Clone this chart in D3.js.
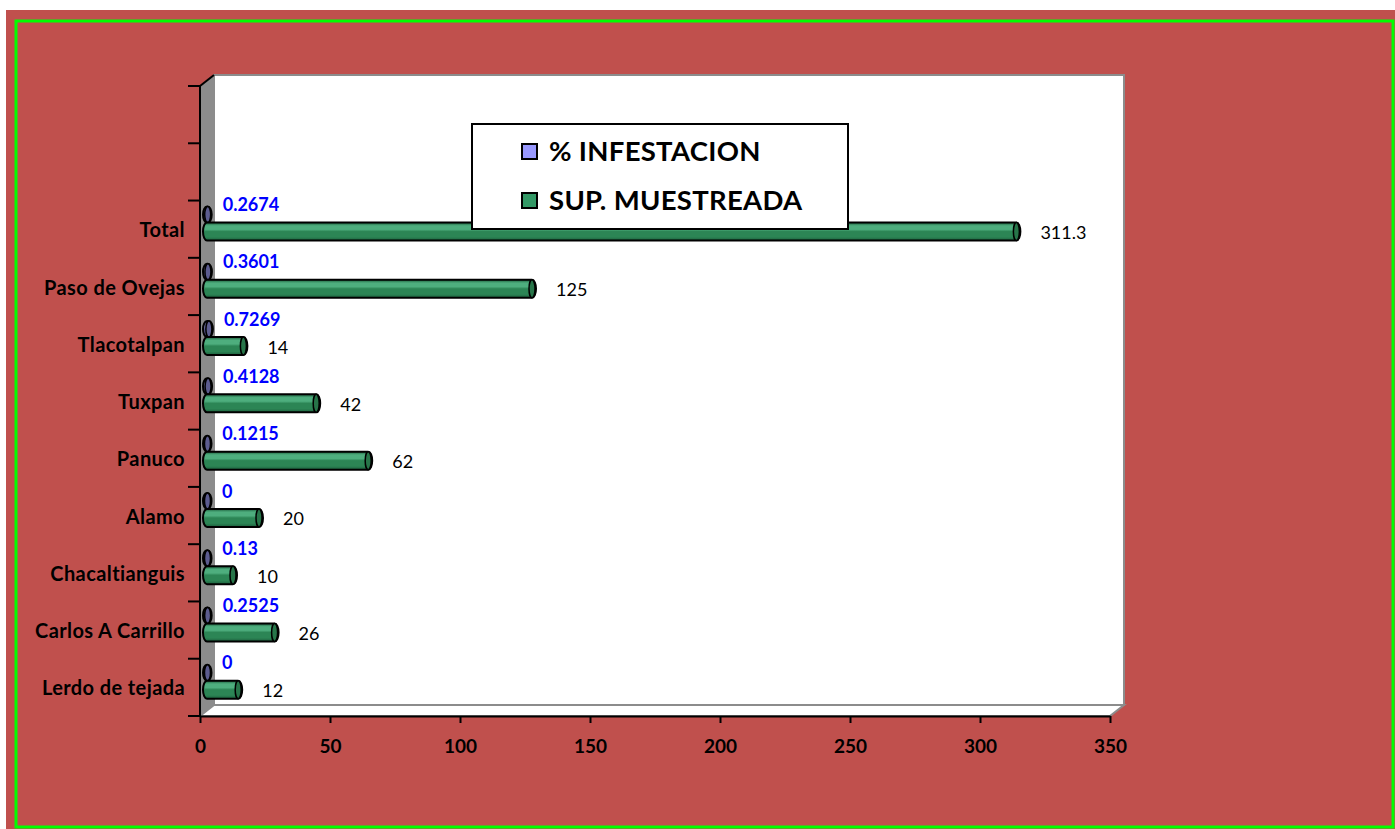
<!DOCTYPE html>
<html>
<head>
<meta charset="utf-8">
<script src="https://cdn.jsdelivr.net/npm/d3@7"></script>
<style>
  body { margin: 0; background: #fff; }
  svg { display: block; }
  text { font-family: Lato, "Open Sans", sans-serif; }
</style>
</head>
<body>
<svg id="chart" width="1395" height="829"></svg>
<script>
// categories, bottom to top as in the chart
const categories = ['Lerdo de tejada', 'Carlos A Carrillo', 'Chacaltianguis', 'Alamo',
  'Panuco', 'Tuxpan', 'Tlacotalpan', 'Paso de Ovejas', 'Total'];
const infestacion = [0, 0.2525, 0.13, 0, 0.1215, 0.4128, 0.7269, 0.3601, 0.2674];
const muestreada = [12, 26, 10, 20, 62, 42, 14, 125, 311.3];
const xTicks = [0, 50, 100, 150, 200, 250, 300, 350];
const seriesNames = ['% INFESTACION', 'SUP. MUESTREADA'];
const seriesColors = ['#9999ff', '#339966'];

const svg = d3.select('#chart');
const defs = svg.append('defs');

// background + green frame
svg.append('rect').attr('x', 6).attr('y', 10).attr('width', 1389).attr('height', 819).attr('fill', '#c0504d');
svg.append('rect').attr('x', 16).attr('y', 21).attr('width', 1377).attr('height', 806)
  .attr('fill', 'none').attr('stroke', '#00ff00').attr('stroke-width', 3);

// plot geometry
const pLeft = 200, pRight = 1110, pTop = 86, pBottom = 716;
const depth = 14, dy = 11;   // 3d wall offset

const x = d3.scaleLinear().domain([0, 350]).range([pLeft, pRight]);
const slots = categories.concat(['_a', '_b']);
const y = d3.scaleBand().domain(slots).range([pBottom, pTop]);

// back wall
svg.append('rect').attr('x', pLeft + depth).attr('y', pTop - dy)
  .attr('width', pRight - pLeft).attr('height', pBottom - pTop)
  .attr('fill', '#fff').attr('stroke', '#8c8c8c').attr('stroke-width', 2);
// floor
svg.append('polygon')
  .attr('points', [[pLeft, pBottom], [pLeft + depth, pBottom - dy], [pRight + depth, pBottom - dy], [pRight, pBottom]].join(' '))
  .attr('fill', '#fff').attr('stroke', '#8c8c8c').attr('stroke-width', 2);
// side wall
svg.append('polygon')
  .attr('points', [[pLeft, pTop], [pLeft + depth, pTop - dy], [pLeft + depth, pBottom - dy], [pLeft, pBottom]].join(' '))
  .attr('fill', '#8c8c8c');
svg.append('line').attr('x1', pLeft).attr('y1', pTop).attr('x2', pLeft + depth).attr('y2', pTop - dy)
  .attr('stroke', '#000').attr('stroke-width', 2);

// axes
const xAxis = svg.append('g').attr('transform', `translate(0,${pBottom})`)
  .call(d3.axisBottom(x).tickValues(xTicks).tickSize(7).tickSizeOuter(0).tickPadding(17));
xAxis.select('.domain').attr('stroke', '#000').attr('stroke-width', 2);
xAxis.selectAll('.tick line').attr('stroke', '#000').attr('stroke-width', 2);
xAxis.selectAll('.tick text').attr('font-size', 19).attr('font-weight', 'bold').attr('fill', '#000')
  .style('font-family', 'Lato, sans-serif');

const yAxis = svg.append('g').attr('transform', `translate(${pLeft},0)`);
yAxis.append('line').attr('x1', 0).attr('x2', 0).attr('y1', pTop).attr('y2', pBottom)
  .attr('stroke', '#000').attr('stroke-width', 2);
const boundaries = slots.map(s => y(s)).concat([pBottom]);
yAxis.selectAll('line.tk').data(boundaries).join('line').attr('class', 'tk')
  .attr('x1', -12).attr('x2', 0).attr('y1', d => d).attr('y2', d => d)
  .attr('stroke', '#000').attr('stroke-width', 2);
yAxis.selectAll('text').data(categories).join('text')
  .attr('x', -15).attr('y', d => y(d) + y.bandwidth() / 2 + 3)
  .attr('text-anchor', 'end').attr('dominant-baseline', 'middle')
  .attr('font-size', 20).attr('letter-spacing', 0.4).attr('font-weight', 'bold').text(d => d);

// gradients for cylinders
function cylGrad(id, dark, mid, light) {
  const g = defs.append('linearGradient').attr('id', id).attr('x1', 0).attr('x2', 0).attr('y1', 0).attr('y2', 1);
  [[0, dark], [0.18, light], [0.38, light], [0.5, mid], [0.8, mid], [1, dark]]
    .forEach(([o, c]) => g.append('stop').attr('offset', o).attr('stop-color', c));
}
cylGrad('gGreen', '#1c5e3c', '#2c8555', '#4eae7e');
cylGrad('gBlue', '#3d3d66', '#5a5a8c', '#8080b8');

const dx = 7, rx = 4;
function cylinder(g, x1, yTop, h, fill, capFill) {
  const x0 = x(0) + dx, xe = Math.max(x1, x0 + 0.5), ry = h / 2;
  g.append('path')
    .attr('d', `M${x0},${yTop} L${xe},${yTop} A${rx},${ry} 0 0 1 ${xe},${yTop + h} L${x0},${yTop + h} A${rx},${ry} 0 0 1 ${x0},${yTop} Z`)
    .attr('fill', fill).attr('stroke', '#000').attr('stroke-width', 2);
  g.append('ellipse').attr('cx', xe).attr('cy', yTop + ry).attr('rx', rx - 1).attr('ry', ry)
    .attr('fill', capFill).attr('stroke', '#000').attr('stroke-width', 1.5);
}

const bars = svg.append('g');
categories.forEach((c, i) => {
  const t = y(c);
  // % infestacion (tiny)
  cylinder(bars, x(infestacion[i]) + dx, t + 6, 16, 'url(#gBlue)', '#5c5c8f');
  // sup. muestreada
  cylinder(bars, x(muestreada[i]) + dx, t + 22, 18, 'url(#gGreen)', '#277549');
});

// data labels
const labels = svg.append('g');
labels.selectAll('text.inf').data(categories).join('text').attr('class', 'inf')
  .attr('x', (d, i) => x(infestacion[i]) + 22)
  .attr('y', (d, i) => y(d) + 6)
  .attr('dominant-baseline', 'middle')
  .attr('font-size', 18).attr('font-weight', 'bold').attr('fill', '#0000ff')
  .text((d, i) => infestacion[i]);
labels.selectAll('text.sup').data(categories).join('text').attr('class', 'sup')
  .attr('x', (d, i) => x(muestreada[i]) + dx + 24)
  .attr('y', (d, i) => y(d) + 34)
  .attr('dominant-baseline', 'middle')
  .attr('font-size', 18).attr('fill', '#000')
  .text((d, i) => muestreada[i]);

// legend
const lg = svg.append('g').attr('transform', 'translate(472,124)');
lg.append('rect').attr('width', 376).attr('height', 105).attr('fill', '#fff')
  .attr('stroke', '#000').attr('stroke-width', 2);
seriesNames.forEach((n, i) => {
  const yy = 28 + i * 49;
  lg.append('rect').attr('x', 50).attr('y', yy - 8).attr('width', 15).attr('height', 15)
    .attr('fill', seriesColors[i]).attr('stroke', '#000').attr('stroke-width', 2);
  lg.append('text').attr('x', 77).attr('y', yy + 2).attr('dominant-baseline', 'middle')
    .attr('font-size', 27.5).attr('letter-spacing', 0.3).attr('font-weight', 'bold').text(n);
});
</script>
</body>
</html>
